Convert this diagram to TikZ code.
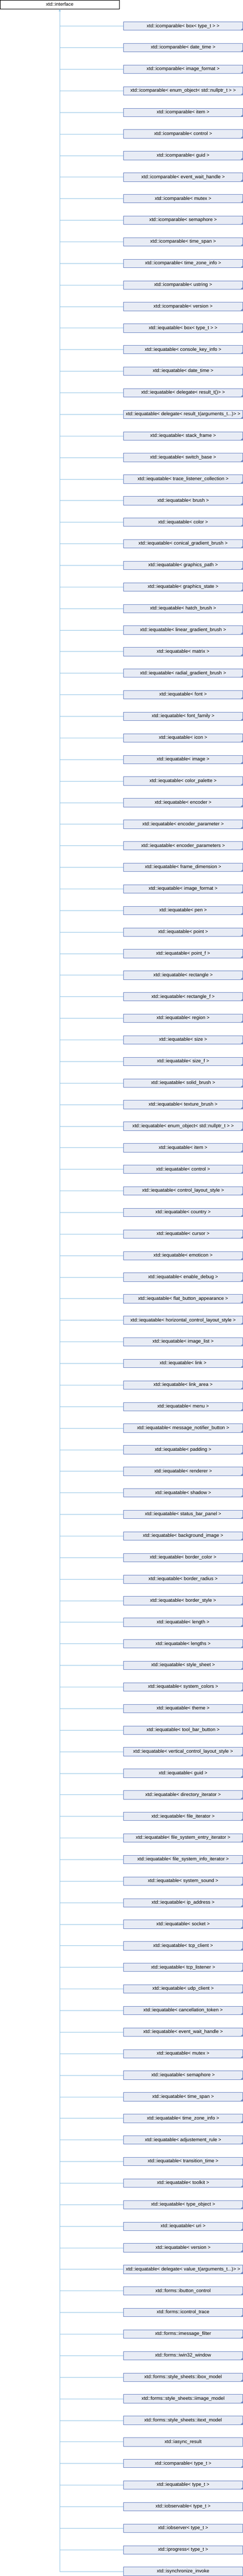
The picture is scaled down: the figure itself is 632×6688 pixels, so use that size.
\documentclass[tikz,border=0pt]{standalone}
\usepackage{fontspec}
\setmainfont{Liberation Sans}
\usetikzlibrary{arrows.meta}
\definecolor{boxfill}{RGB}{232,236,245}
\definecolor{boxline}{RGB}{112,136,196}
\definecolor{connline}{RGB}{150,198,230}
\tikzset{
  clsbox/.style={draw=boxline, fill=boxfill, line width=1bp, minimum width=309.6bp,
    minimum height=21.8bp, inner sep=0pt, text height=9bp, text depth=2.6bp,
    font=\fontsize{12.5bp}{14bp}\selectfont, text=black},
  rootbox/.style={draw=black, fill=white, line width=1bp, minimum width=310bp,
    minimum height=22.2bp, inner sep=0pt, text height=9bp, text depth=2.6bp,
    font=\fontsize{12.5bp}{14bp}\selectfont, text=black},
  conn/.style={draw=connline, line width=1bp},
  cornermark/.style={fill=boxline},
}
\begin{document}
\begin{tikzpicture}[x=1bp,y=-1bp]
\useasboundingbox (0,0) rectangle (632,6688);
\node[rootbox] (iface) at (155.5,11.6) {xtd::interface};
\foreach [count=\i] \lab/\tri in {
{xtd::icomparable< box< type\_t > >}/1,
{xtd::icomparable< date\_time >}/1,
{xtd::icomparable< image\_format >}/1,
{xtd::icomparable< enum\_object< std::nullptr\_t > >}/1,
{xtd::icomparable< item >}/1,
{xtd::icomparable< control >}/1,
{xtd::icomparable< guid >}/1,
{xtd::icomparable< event\_wait\_handle >}/1,
{xtd::icomparable< mutex >}/1,
{xtd::icomparable< semaphore >}/1,
{xtd::icomparable< time\_span >}/1,
{xtd::icomparable< time\_zone\_info >}/1,
{xtd::icomparable< ustring >}/1,
{xtd::icomparable< version >}/1,
{xtd::iequatable< box< type\_t > >}/1,
{xtd::iequatable< console\_key\_info >}/1,
{xtd::iequatable< date\_time >}/1,
{xtd::iequatable< delegate< result\_t()> >}/1,
{xtd::iequatable< delegate< result\_t(arguments\_t...)> >}/1,
{xtd::iequatable< stack\_frame >}/1,
{xtd::iequatable< switch\_base >}/1,
{xtd::iequatable< trace\_listener\_collection >}/1,
{xtd::iequatable< brush >}/1,
{xtd::iequatable< color >}/1,
{xtd::iequatable< conical\_gradient\_brush >}/1,
{xtd::iequatable< graphics\_path >}/1,
{xtd::iequatable< graphics\_state >}/1,
{xtd::iequatable< hatch\_brush >}/1,
{xtd::iequatable< linear\_gradient\_brush >}/1,
{xtd::iequatable< matrix >}/1,
{xtd::iequatable< radial\_gradient\_brush >}/1,
{xtd::iequatable< font >}/1,
{xtd::iequatable< font\_family >}/1,
{xtd::iequatable< icon >}/1,
{xtd::iequatable< image >}/1,
{xtd::iequatable< color\_palette >}/1,
{xtd::iequatable< encoder >}/1,
{xtd::iequatable< encoder\_parameter >}/1,
{xtd::iequatable< encoder\_parameters >}/1,
{xtd::iequatable< frame\_dimension >}/1,
{xtd::iequatable< image\_format >}/1,
{xtd::iequatable< pen >}/1,
{xtd::iequatable< point >}/1,
{xtd::iequatable< point\_f >}/1,
{xtd::iequatable< rectangle >}/1,
{xtd::iequatable< rectangle\_f >}/1,
{xtd::iequatable< region >}/1,
{xtd::iequatable< size >}/1,
{xtd::iequatable< size\_f >}/1,
{xtd::iequatable< solid\_brush >}/1,
{xtd::iequatable< texture\_brush >}/1,
{xtd::iequatable< enum\_object< std::nullptr\_t > >}/1,
{xtd::iequatable< item >}/1,
{xtd::iequatable< control >}/1,
{xtd::iequatable< control\_layout\_style >}/1,
{xtd::iequatable< country >}/1,
{xtd::iequatable< cursor >}/1,
{xtd::iequatable< emoticon >}/1,
{xtd::iequatable< enable\_debug >}/1,
{xtd::iequatable< flat\_button\_appearance >}/1,
{xtd::iequatable< horizontal\_control\_layout\_style >}/1,
{xtd::iequatable< image\_list >}/1,
{xtd::iequatable< link >}/1,
{xtd::iequatable< link\_area >}/1,
{xtd::iequatable< menu >}/1,
{xtd::iequatable< message\_notifier\_button >}/1,
{xtd::iequatable< padding >}/1,
{xtd::iequatable< renderer >}/1,
{xtd::iequatable< shadow >}/1,
{xtd::iequatable< status\_bar\_panel >}/1,
{xtd::iequatable< background\_image >}/1,
{xtd::iequatable< border\_color >}/1,
{xtd::iequatable< border\_radius >}/1,
{xtd::iequatable< border\_style >}/1,
{xtd::iequatable< length >}/1,
{xtd::iequatable< lengths >}/1,
{xtd::iequatable< style\_sheet >}/1,
{xtd::iequatable< system\_colors >}/1,
{xtd::iequatable< theme >}/1,
{xtd::iequatable< tool\_bar\_button >}/1,
{xtd::iequatable< vertical\_control\_layout\_style >}/1,
{xtd::iequatable< guid >}/1,
{xtd::iequatable< directory\_iterator >}/1,
{xtd::iequatable< file\_iterator >}/1,
{xtd::iequatable< file\_system\_entry\_iterator >}/1,
{xtd::iequatable< file\_system\_info\_iterator >}/1,
{xtd::iequatable< system\_sound >}/1,
{xtd::iequatable< ip\_address >}/1,
{xtd::iequatable< socket >}/1,
{xtd::iequatable< tcp\_client >}/1,
{xtd::iequatable< tcp\_listener >}/1,
{xtd::iequatable< udp\_client >}/1,
{xtd::iequatable< cancellation\_token >}/1,
{xtd::iequatable< event\_wait\_handle >}/1,
{xtd::iequatable< mutex >}/1,
{xtd::iequatable< semaphore >}/1,
{xtd::iequatable< time\_span >}/1,
{xtd::iequatable< time\_zone\_info >}/1,
{xtd::iequatable< adjustement\_rule >}/1,
{xtd::iequatable< transition\_time >}/1,
{xtd::iequatable< toolkit >}/1,
{xtd::iequatable< type\_object >}/1,
{xtd::iequatable< uri >}/1,
{xtd::iequatable< version >}/1,
{xtd::iequatable< delegate< value\_t(arguments\_t...)> >}/1,
{xtd::forms::ibutton\_control}/1,
{xtd::forms::icontrol\_trace}/1,
{xtd::forms::imessage\_filter}/1,
{xtd::forms::iwin32\_window}/1,
{xtd::forms::style\_sheets::ibox\_model}/1,
{xtd::forms::style\_sheets::iimage\_model}/1,
{xtd::forms::style\_sheets::itext\_model}/1,
{xtd::iasync\_result}/0,
{xtd::icomparable< type\_t >}/1,
{xtd::iequatable< type\_t >}/1,
{xtd::iobservable< type\_t >}/0,
{xtd::iobserver< type\_t >}/0,
{xtd::iprogress< type\_t >}/0,
{xtd::isynchronize\_invoke}/0%
} {
  \node[clsbox] (n\i) at (476.7,{67.8+(\i-1)*56}) {\lab};
  \draw[conn] (iface.south |- n\i.west) -- (n\i.west);
  \ifnum\tri=1
    \fill[cornermark] (n\i.south east) -- ++(-6,0) -- ++(6,-6) -- cycle;
  \fi
}
\draw[conn,-{Triangle[width=5bp,length=6bp]}] (iface.south |- n119.west) -- (iface.south);
\end{tikzpicture}
\end{document}
